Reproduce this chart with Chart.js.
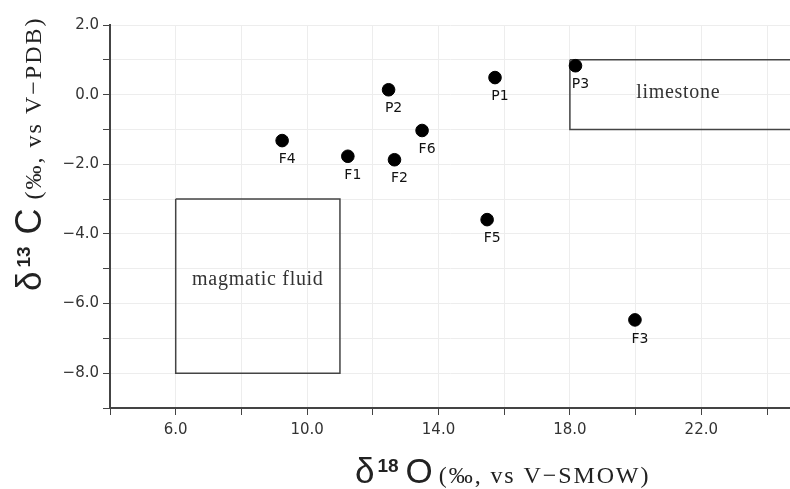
<!DOCTYPE html>
<html>
<head>
<meta charset="utf-8">
<script src="https://cdn.jsdelivr.net/npm/chart.js@4/dist/chart.umd.min.js"></script>
<style>
html,body{margin:0;padding:0;background:#fff;overflow:hidden;}
#wrap{width:790px;height:489px;}
canvas{display:block;}
</style>
</head>
<body>
<div id="wrap"><canvas id="c" width="790" height="489"></canvas></div>
<script>
// ---- data ----
const sampleNames = ['F1', 'F2', 'F3', 'F4', 'F5', 'F6', 'P1', 'P2', 'P3'];
const d18O = [11.24, 12.66, 19.98, 9.24, 15.48, 13.50, 15.72, 12.48, 18.17];
const d13C = [-1.77, -1.87, -6.47, -1.32, -3.59, -1.03, 0.49, 0.14, 0.83];

const magmaticBoxX = [6, 11];
const magmaticBoxY = [-8, -3];
const limestoneBoxX = [18, 25];
const limestoneBoxY = [-1, 1];

const boxLabels = ['magmatic fluid', 'limestone'];
const boxLabelX = [8.5, 21.3];
const boxLabelY = [-5.32, 0.05];

const xTickValues = [4, 6, 8, 10, 12, 14, 16, 18, 20, 22, 24];
const xLabelValues = [6, 10, 14, 18, 22];
const yTickValues = [-9, -8, -7, -6, -5, -4, -3, -2, -1, 0, 1, 2];
const yLabelValues = [-8, -6, -4, -2, 0, 2];

function boxPoints(xs, ys) {
  return [
    {x: xs[0], y: ys[1]}, {x: xs[1], y: ys[1]},
    {x: xs[1], y: ys[0]}, {x: xs[0], y: ys[0]},
    {x: xs[0], y: ys[1]}
  ];
}
function fmt(v) {
  const s = Math.abs(v).toFixed(1);
  return v < 0 ? '\u2212' + s : s;
}

const pointData = d18O.map((x, i) => ({x: x, y: d13C[i]}));

function drawParts(ctx, parts) {
  let x = 0;
  for (const p of parts) {
    ctx.font = p.font;
    ctx.letterSpacing = p.ls || '0px';
    x += p.gap || 0;
    ctx.fillStyle = p.color || '#222';
    ctx.fillText(p.t, x, p.dy || 0);
    x += ctx.measureText(p.t).width;
  }
  ctx.letterSpacing = '0px';
}

const overlayPlugin = {
  id: 'overlay',
  afterLayout(chart) {
    // let the plot area run to the right edge of the canvas, as in the reference
    const a = chart.chartArea;
    a.right = chart.width;
    a.width = a.right - a.left;
    const xs = chart.scales.x;
    xs.right = chart.width;
    xs.width = xs.right - xs.left;
    xs.configure();
  },
  afterDatasetsDraw(chart) {
    const ctx = chart.ctx;
    const xs = chart.scales.x, ys = chart.scales.y;
    ctx.save();
    ctx.font = '14px "DejaVu Sans"';
    ctx.fillStyle = '#111';
    ctx.textAlign = 'center';
    ctx.textBaseline = 'middle';
    sampleNames.forEach((n, i) => {
      const px = xs.getPixelForValue(d18O[i]);
      const py = ys.getPixelForValue(d13C[i]);
      ctx.fillText(n, px + 5, py + 19);
    });
    ctx.font = '20px "Liberation Serif"';
    ctx.letterSpacing = '0.7px';
    ctx.fillStyle = '#333';
    boxLabels.forEach((t, i) => {
      ctx.fillText(t, xs.getPixelForValue(boxLabelX[i]), ys.getPixelForValue(boxLabelY[i]));
    });
    ctx.letterSpacing = '0px';
    ctx.restore();
  },
  afterDraw(chart) {
    const ctx = chart.ctx;
    ctx.save();
    ctx.textAlign = 'left';
    ctx.textBaseline = 'alphabetic';
    ctx.translate(355, 483);
    drawParts(ctx, [
      {t: 'δ', font: '35px "Liberation Sans"'},
      {t: '18', font: 'bold 19px "Liberation Sans"', dy: -11, gap: 3},
      {t: 'O', font: '35px "Liberation Sans"', gap: 7},
      {t: '(‰, vs V\u2212SMOW)', font: '24px "Liberation Serif"', gap: 6, ls: '1.9px'}
    ]);
    ctx.restore();
    ctx.save();
    ctx.textAlign = 'left';
    ctx.textBaseline = 'alphabetic';
    ctx.translate(41, 291);
    ctx.rotate(-Math.PI / 2);
    drawParts(ctx, [
      {t: 'δ', font: '35px "Liberation Sans"'},
      {t: '13', font: 'bold 19px "Liberation Sans"', dy: -11, gap: 4},
      {t: 'C', font: '36px "Liberation Sans"', gap: 12},
      {t: '(‰, vs V\u2212PDB)', font: '24px "Liberation Serif"', gap: 9, ls: '2px'}
    ]);
    ctx.restore();
  }
};

new Chart(document.getElementById('c'), {
  type: 'scatter',
  data: {
    datasets: [
      {
        label: 'samples',
        data: pointData,
        backgroundColor: '#000',
        borderColor: '#000',
        pointRadius: 6.3,
        pointHoverRadius: 6.3,
        order: 0
      },
      {
        label: 'magmatic fluid',
        data: boxPoints(magmaticBoxX, magmaticBoxY),
        showLine: true,
        borderColor: '#444',
        borderWidth: 1.5,
        pointRadius: 0,
        fill: false,
        order: 1
      },
      {
        label: 'limestone',
        data: boxPoints(limestoneBoxX, limestoneBoxY),
        showLine: true,
        borderColor: '#444',
        borderWidth: 1.5,
        pointRadius: 0,
        fill: false,
        order: 1
      }
    ]
  },
  options: {
    responsive: false,
    animation: false,
    devicePixelRatio: 1,
    layout: {padding: {top: 25, left: 0, right: 0, bottom: 0}},
    plugins: {legend: {display: false}, tooltip: {enabled: false}},
    scales: {
      x: {
        type: 'linear',
        min: 4,
        max: 24.7,
        afterBuildTicks: s => { s.ticks = xTickValues.map(v => ({value: v})); },
        afterFit: s => { s.height = 81; s.paddingRight = 0; s.paddingLeft = 0; },
        ticks: {
          autoSkip: false,
          maxRotation: 0,
          padding: 6,
          color: '#333',
          font: {family: '"DejaVu Sans"', size: 15},
          callback: v => xLabelValues.includes(v) ? fmt(v) : ''
        },
        grid: {color: '#ededed', tickColor: '#444', tickLength: 7, lineWidth: 1},
        border: {color: '#444', width: 2}
      },
      y: {
        type: 'linear',
        min: -9,
        max: 2,
        afterBuildTicks: s => { s.ticks = yTickValues.map(v => ({value: v})); },
        afterFit: s => { s.width = 110; s.paddingTop = 0; s.paddingBottom = 0; },
        ticks: {
          autoSkip: false,
          padding: 4,
          color: '#333',
          font: {family: '"DejaVu Sans"', size: 15},
          callback: v => yLabelValues.includes(v) ? fmt(v) : ''
        },
        grid: {color: '#ededed', tickColor: '#444', tickLength: 7, lineWidth: 1},
        border: {color: '#444', width: 2}
      }
    }
  },
  plugins: [overlayPlugin]
});
</script>
</body>
</html>
